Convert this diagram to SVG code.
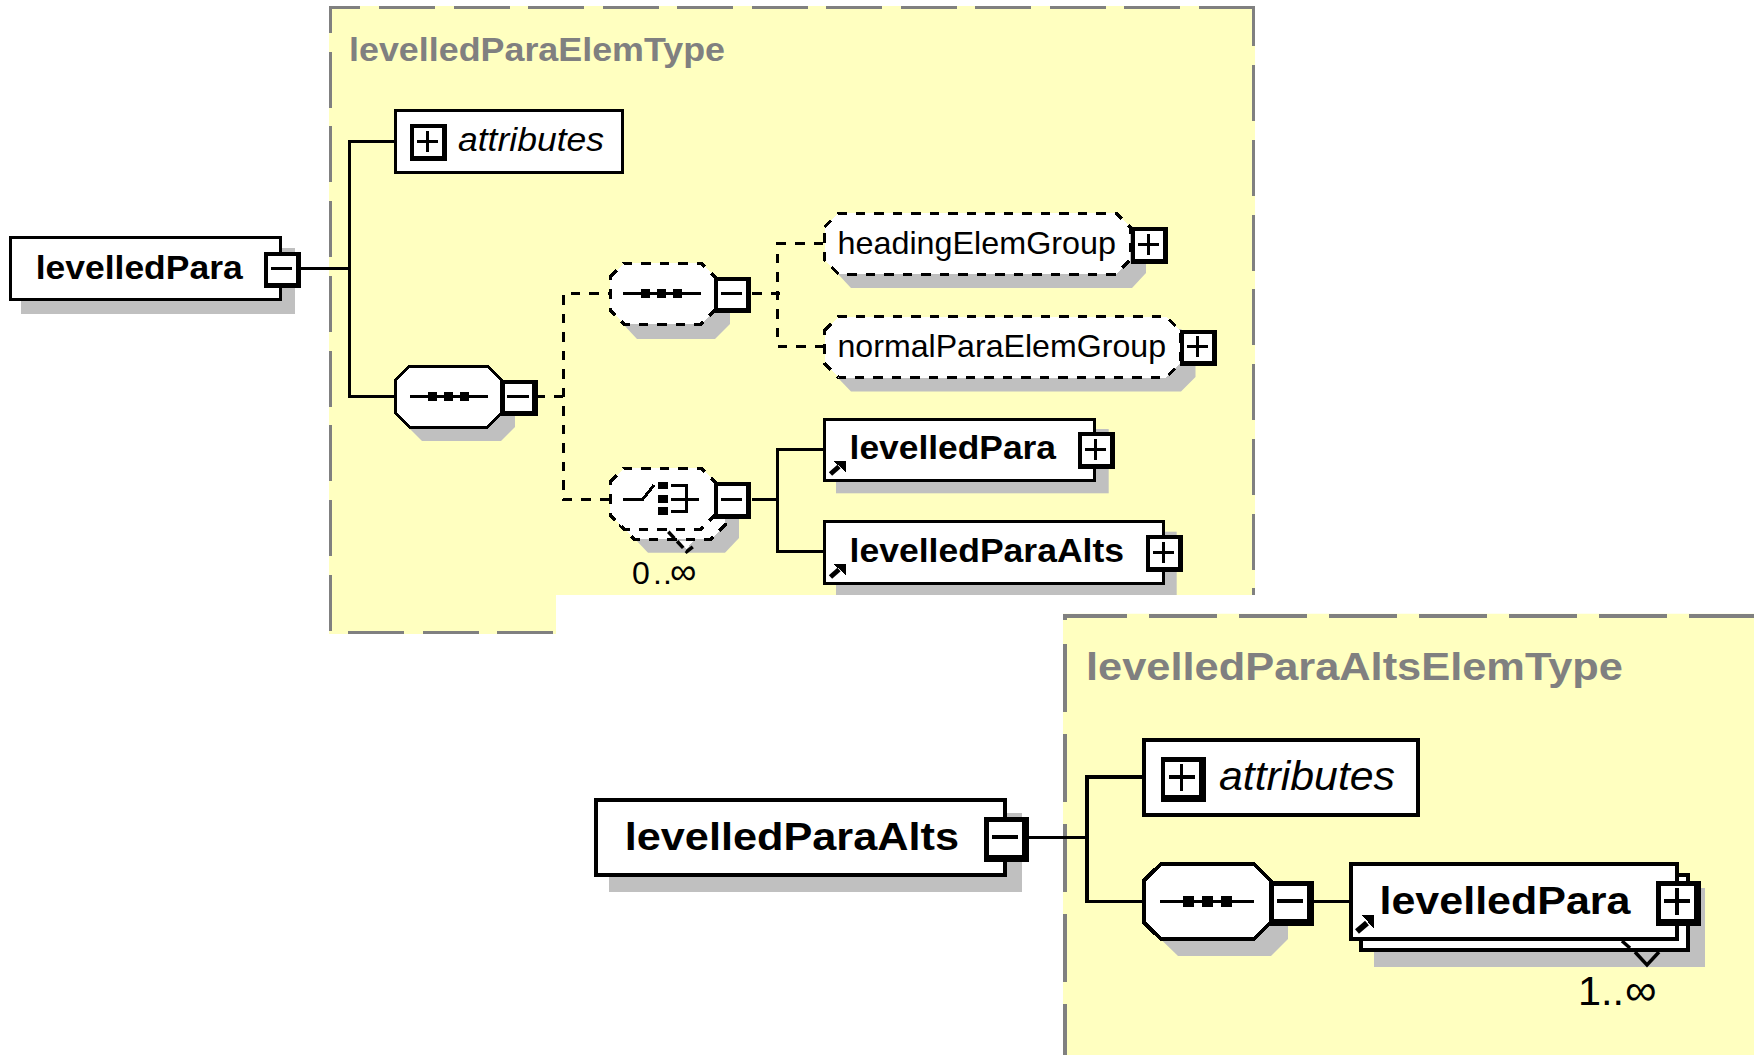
<svg xmlns="http://www.w3.org/2000/svg" width="1754" height="1055" viewBox="0 0 1754 1055">
<style>
text{font-family:"Liberation Sans",Arial,sans-serif;fill:#000}
.bold{font-weight:700}
.ital{font-style:italic}
.title{font-weight:700;fill:#808080}
.frame{fill:#ffffc0;stroke:none}
.fd{fill:none;stroke:#808080;shape-rendering:crispEdges}
.sh{fill:#c0c0c0;stroke:none}
.n{fill:#fff;stroke:#000;stroke-width:3;shape-rendering:crispEdges}
.n2{fill:#fff;stroke:#000;stroke-width:4;shape-rendering:crispEdges}
.d{fill:#fff;stroke:#000;stroke-width:3;stroke-dasharray:9.5 9;shape-rendering:crispEdges}
.c{fill:none;stroke:#000;stroke-width:3;shape-rendering:crispEdges}
.c2{fill:none;stroke:#000;stroke-width:3.6;shape-rendering:crispEdges}
.cd{fill:none;stroke:#000;stroke-width:3;stroke-dasharray:9.5 9;shape-rendering:crispEdges}
.v{fill:none;stroke:#000;stroke-width:3.5}
.k{fill:#000;stroke:none;shape-rendering:crispEdges}
.w{fill:#fff;stroke:none;shape-rendering:crispEdges}
</style>
<defs>
<g id="minus1"><rect class="k" width="37" height="36.5"/><rect class="w" x="4" y="4" width="27.5" height="27.5"/><path class="c" d="M6.5 17H28"/></g>
<g id="plus1"><rect class="k" width="37" height="36.5"/><rect class="w" x="4" y="4" width="27.5" height="27.5"/><path class="c" d="M6.5 17H28M17 6.5V27.5"/></g>
<g id="minus2"><rect class="k" width="45" height="45"/><rect class="w" x="4.7" y="4.7" width="33.3" height="33.3"/><path class="c2" d="M8 20H34"/></g>
<g id="plus2"><rect class="k" width="45" height="45"/><rect class="w" x="4.7" y="4.7" width="33.3" height="33.3"/><path class="c2" d="M8 20H34M21 6.7V34"/></g>
<g id="seq1"><path class="c" d="M0 0H78"/><rect class="k" x="18" y="-4.5" width="9" height="9"/><rect class="k" x="34" y="-4.5" width="9" height="9"/><rect class="k" x="50" y="-4.5" width="9" height="9"/></g>
<g id="ref1"><path d="M1.5 12.5L10 5" fill="none" stroke="#000" stroke-width="5"/><path class="k" d="M4.5 -0.7H17V11Z"/></g>
</defs>

<g id="frame-levelledParaElemType">
<path class="frame" d="M329 6H1255V595H556V634H329Z"/>
<path class="fd" stroke-width="3" d="M329 7.5H360M330.5 6V33.3M1253.5 6V46"/>
<path class="fd" stroke-width="3" stroke-dasharray="56 18.5" d="M379 7.5H1254M348 632.5H553"/>
<path class="fd" stroke-width="3" stroke-dasharray="56 18.75" d="M330.5 51.7V631M1253.5 65V595"/>
<text class="title" x="349" y="61" font-size="33" textLength="376" lengthAdjust="spacingAndGlyphs">levelledParaElemType</text>
</g>
<g id="frame-levelledParaAltsElemType">
<path class="frame" d="M1063 613.7H1754V1055H1063Z"/>
<path class="fd" stroke-width="4" d="M1063 616H1126.5M1065 614V620"/>
<path class="fd" stroke-width="4" stroke-dasharray="68 22" d="M1149 616H1754"/>
<path class="fd" stroke-width="4" stroke-dasharray="67.6 22.4" d="M1065 644V1055"/>
<text class="title" x="1086" y="680" font-size="39" textLength="537" lengthAdjust="spacingAndGlyphs">levelledParaAltsElemType</text>
</g>

<g id="connectors">
<path class="c" d="M301 268.5H349M394 141H349V396.5H394"/>
<path class="cd" d="M563 396.5H538"/>
<path class="cd" d="M609 499H563V293.5H610"/>
<path class="cd" d="M780 293.5H752"/>
<path class="cd" d="M823 243.5H777.5V346H823"/>
<path class="c" d="M752 499.5H777.5M823 449.5H777.5V551H823"/>
<path class="c2" d="M1028 837.5H1087M1143 777H1087V901.5H1143M1314 901.5H1349"/>
</g>

<g id="node-levelledPara-root">
<rect class="sh" x="21" y="248" width="274" height="66"/>
<rect class="n" x="10" y="237.5" width="270" height="62"/>
<text class="bold" x="35.7" y="279" font-size="34" textLength="207" lengthAdjust="spacingAndGlyphs">levelledPara</text>
<use href="#minus1" x="264" y="251.5"/>
</g>
<g id="node-attributes-1">
<rect class="n" x="395.5" y="110" width="226.5" height="62"/>
<use href="#plus1" x="410" y="124"/>
<text class="ital" x="458" y="151" font-size="34" textLength="146" lengthAdjust="spacingAndGlyphs">attributes</text>
</g>
<g id="node-sequence-1">
<polygon class="sh" points="408,392 422,378 501,378 515,392 515,427 501,441 422,441 408,427"/>
<polygon class="n" points="395.5,380 409.5,366 487.5,366 501.5,380 501.5,413 487.5,427 409.5,427 395.5,413"/>
<use href="#seq1" x="410" y="396.5"/>
<use href="#minus1" x="500.5" y="379.5"/>
</g>
<g id="node-sequence-2">
<polygon class="sh" points="623,290 637,276 715,276 730,290 730,324 715,339 637,339 623,324"/>
<polygon class="d" points="610,277 624,263 701,263 715,277 715,310 701,324 624,324 610,310"/>
<use href="#seq1" x="623" y="293.5"/>
<use href="#minus1" x="714" y="276.5"/>
</g>
<g id="node-headingElemGroup">
<polygon class="sh" points="837,240 851,226 1132,226 1146,240 1146,273 1132,288 851,288 837,273"/>
<polygon class="d" points="824.5,227 838.5,213 1116,213 1130,227 1130,260 1116,274 838.5,274 824.5,260"/>
<text x="837.5" y="254" font-size="32" textLength="278.5" lengthAdjust="spacingAndGlyphs">headingElemGroup</text>
<use href="#plus1" x="1131" y="227"/>
</g>
<g id="node-normalParaElemGroup">
<polygon class="sh" points="837,343 851,329 1181,329 1195.5,343 1195.5,377 1181,391.5 851,391.5 837,377"/>
<polygon class="d" points="824.5,330.5 838.5,316.5 1166,316.5 1180,330.5 1180,363.5 1166,377.5 838.5,377.5 824.5,363.5"/>
<text x="837.5" y="356.7" font-size="32" textLength="328.5" lengthAdjust="spacingAndGlyphs">normalParaElemGroup</text>
<use href="#plus1" x="1180" y="329.5"/>
</g>
<g id="node-choice">
<polygon class="sh" points="634,505 648,491 725,491 739,505 739,538 725,552.7 648,552.7 634,538"/>
<polygon class="d" points="620,492 634,478 711,478 725,492 725,525 711,539 634,539 620,525"/>
<polygon class="w" points="678,541 693,541 686.5,549"/>
<path class="v" stroke-dasharray="9 4" d="M668.3 531.7L686.7 551.7L695 545"/>
<polygon class="d" points="610,482 624,468 701,468 715,482 715,515 701,529 624,529 610,515"/>
<path class="c" d="M623 499H643L654 485"/>
<rect class="k" x="658" y="482" width="10" height="7"/><rect class="k" x="658" y="495" width="10" height="8"/><rect class="k" x="658" y="507" width="10" height="8"/>
<path class="c" d="M671 485H686V511H671M671 499H699"/>
<use href="#minus1" x="714" y="482"/>
<text y="584" font-size="32" x="632 653 663"><tspan>0</tspan><tspan>..</tspan></text>
<text x="670" y="584" font-size="37">∞</text>
</g>
<g id="node-levelledPara-ref">
<rect class="sh" x="836" y="429" width="272.7" height="64.3"/>
<rect class="n" x="824.5" y="419.5" width="270" height="61"/>
<use href="#ref1" x="829" y="461.5"/>
<text class="bold" x="849.6" y="459" font-size="34" textLength="206.4" lengthAdjust="spacingAndGlyphs">levelledPara</text>
<use href="#plus1" x="1078" y="432"/>
</g>
<g id="node-levelledParaAlts-ref">
<rect class="sh" x="836" y="531.7" width="340.7" height="63.3"/>
<rect class="n" x="824.5" y="521.5" width="338.5" height="61.5"/>
<use href="#ref1" x="829" y="564.5"/>
<text class="bold" x="849.6" y="562" font-size="34" textLength="274.4" lengthAdjust="spacingAndGlyphs">levelledParaAlts</text>
<use href="#plus1" x="1146" y="535"/>
</g>

<g id="node-levelledParaAlts-root">
<rect class="sh" x="609" y="813" width="413" height="79"/>
<rect class="n2" x="596" y="799.5" width="408.5" height="75.5"/>
<text class="bold" x="624.7" y="850" font-size="39" textLength="334.3" lengthAdjust="spacingAndGlyphs">levelledParaAlts</text>
<use href="#minus2" x="984" y="817"/>
</g>
<g id="node-attributes-2">
<rect class="n2" x="1144" y="740" width="274" height="75"/>
<use href="#plus2" x="1160.5" y="757"/>
<text class="ital" x="1219" y="790" font-size="41" textLength="176" lengthAdjust="spacingAndGlyphs">attributes</text>
</g>
<g id="node-sequence-3">
<polygon class="sh" points="1160.5,898 1178,881 1271,881 1288,898 1288,939 1271,956 1178,956 1160.5,939"/>
<polygon class="n2" points="1143.5,881 1161,864 1254,864 1271,881 1271,922 1254,939 1161,939 1143.5,922"/>
<path class="c2" d="M1160 901.5H1254"/>
<rect class="k" x="1182.5" y="896" width="11" height="11"/><rect class="k" x="1201.5" y="896" width="11" height="11"/><rect class="k" x="1221" y="896" width="11" height="11"/>
<use href="#minus2" x="1269" y="881"/>
</g>
<g id="node-levelledPara-multi">
<rect class="sh" x="1374" y="888" width="331" height="79"/>
<rect class="n2" x="1361" y="875" width="327" height="75"/>
<path class="v" d="M1635 952L1647 965L1659 952"/>
<rect class="n2" x="1350.5" y="864" width="326.5" height="75"/>
<path class="v" d="M1622 941L1630 948"/>
<path d="M1357 931.5L1367 923" fill="none" stroke="#000" stroke-width="6"/><path class="k" d="M1361.5 915H1374V928.5Z"/>
<text class="bold" x="1379.5" y="914" font-size="39" textLength="251" lengthAdjust="spacingAndGlyphs">levelledPara</text>
<use href="#plus2" x="1656" y="881"/>
<text x="1578" y="1005" font-size="40" textLength="46" lengthAdjust="spacingAndGlyphs">1..</text>
<text x="1625" y="1005" font-size="44">∞</text>
</g>
</svg>
